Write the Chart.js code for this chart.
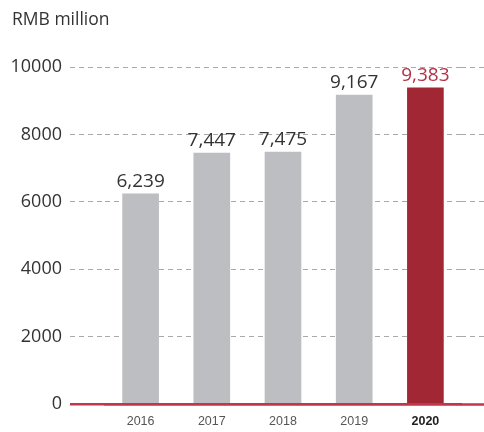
<!DOCTYPE html>
<html>
<head>
<meta charset="utf-8">
<script src="https://cdn.jsdelivr.net/npm/chart.js@4"></script>
<style>
  html, body { margin: 0; padding: 0; background: #fff; }
  #wrap { width: 484px; height: 432px; }
</style>
</head>
<body>
<div id="wrap"><canvas id="incomeChart"></canvas></div>
<script>
// 年份與數值 (RMB million)
const years = ['2016', '2017', '2018', '2019', '2020'];
const values = [6239, 7447, 7475, 9167, 9383];
const yTicks = [0, 2000, 4000, 6000, 8000, 10000];

const GREY = '#bdbec1';
const RED = '#a22735';
const LINE_RED = '#c1374a';

// 柱子上方的數值標籤
const valueLabels = {
    id: 'valueLabels',
    afterDatasetsDraw(chart) {
        const ctx = chart.ctx;
        const meta = chart.getDatasetMeta(0);
        ctx.save();
        ctx.font = '19px "Open Sans"';
        ctx.textAlign = 'center';
        ctx.textBaseline = 'alphabetic';
        meta.data.forEach((bar, i) => {
            ctx.fillStyle = i === years.length - 1 ? '#b23245' : '#333333';
            ctx.fillText(values[i].toLocaleString('en-US'), bar.x, bar.y - 7);
        });
        ctx.restore();
    }
};

const isZero = (c) => c.tick && c.tick.value === 0;

new Chart(document.getElementById('incomeChart'), {
    type: 'bar',
    data: {
        labels: years,
        datasets: [{
            data: values,
            backgroundColor: years.map((y, i) => i === years.length - 1 ? RED : GREY),
            barThickness: 36,
        }],
    },
    options: {
        responsive: true,
        maintainAspectRatio: false,
        animation: false,
        layout: { padding: { left: 12, right: 0, top: 0, bottom: 3 } },
        plugins: {
            legend: { display: false },
            tooltip: { enabled: false },
            title: {
                display: true,
                text: 'RMB million',
                align: 'start',
                color: '#333333',
                font: { family: '"Open Sans"', size: 17.5, weight: 'normal' },
                padding: { top: 10, bottom: 36 },
            },
        },
        scales: {
            x: {
                z: 1,
                afterFit: (s) => { s.height = 25; },
                grid: { display: false, drawTicks: false },
                border: { display: true, color: LINE_RED, width: 2.5 },
                ticks: {
                    padding: 10,
                    color: (c) => c.index === years.length - 1 ? '#222222' : '#555555',
                    font: (c) => ({
                        family: '"Liberation Sans", Arial',
                        size: 12.5,
                        weight: c.index === years.length - 1 ? 'bold' : 'normal',
                    }),
                },
            },
            y: {
                min: 0,
                max: 10000,
                afterBuildTicks: (s) => { s.ticks = yTicks.map(v => ({ value: v })); },
                afterFit: (s) => { s.width = 93; },
                border: { display: false, dash: (c) => isZero(c) ? [] : [5, 4] },
                grid: {
                    color: (c) => isZero(c) ? LINE_RED : '#aaaaaa',
                    lineWidth: (c) => isZero(c) ? 2.5 : 1,
                    tickLength: 35,
                    tickColor: (c) => isZero(c) ? LINE_RED : '#aaaaaa',
                    tickWidth: (c) => isZero(c) ? 2.5 : 1,
                    tickBorderDash: (c) => isZero(c) ? [] : [5, 4],
                },
                ticks: {
                    padding: 8,
                    color: '#333333',
                    font: { family: '"Open Sans"', size: 18 },
                    callback: (v) => String(v),
                },
            },
            y2: {
                position: 'right',
                min: 0,
                max: 10000,
                afterBuildTicks: (s) => { s.ticks = yTicks.map(v => ({ value: v })); },
                afterFit: (s) => { s.width = 23; },
                border: { display: false },
                grid: {
                    drawOnChartArea: false,
                    tickLength: 23,
                    tickColor: (c) => isZero(c) ? LINE_RED : '#aaaaaa',
                    tickWidth: (c) => isZero(c) ? 2.5 : 1,
                    tickBorderDash: (c) => isZero(c) ? [] : [5, 4],
                },
                ticks: { display: false },
            },
        },
    },
    plugins: [valueLabels],
});
</script>
</body>
</html>
